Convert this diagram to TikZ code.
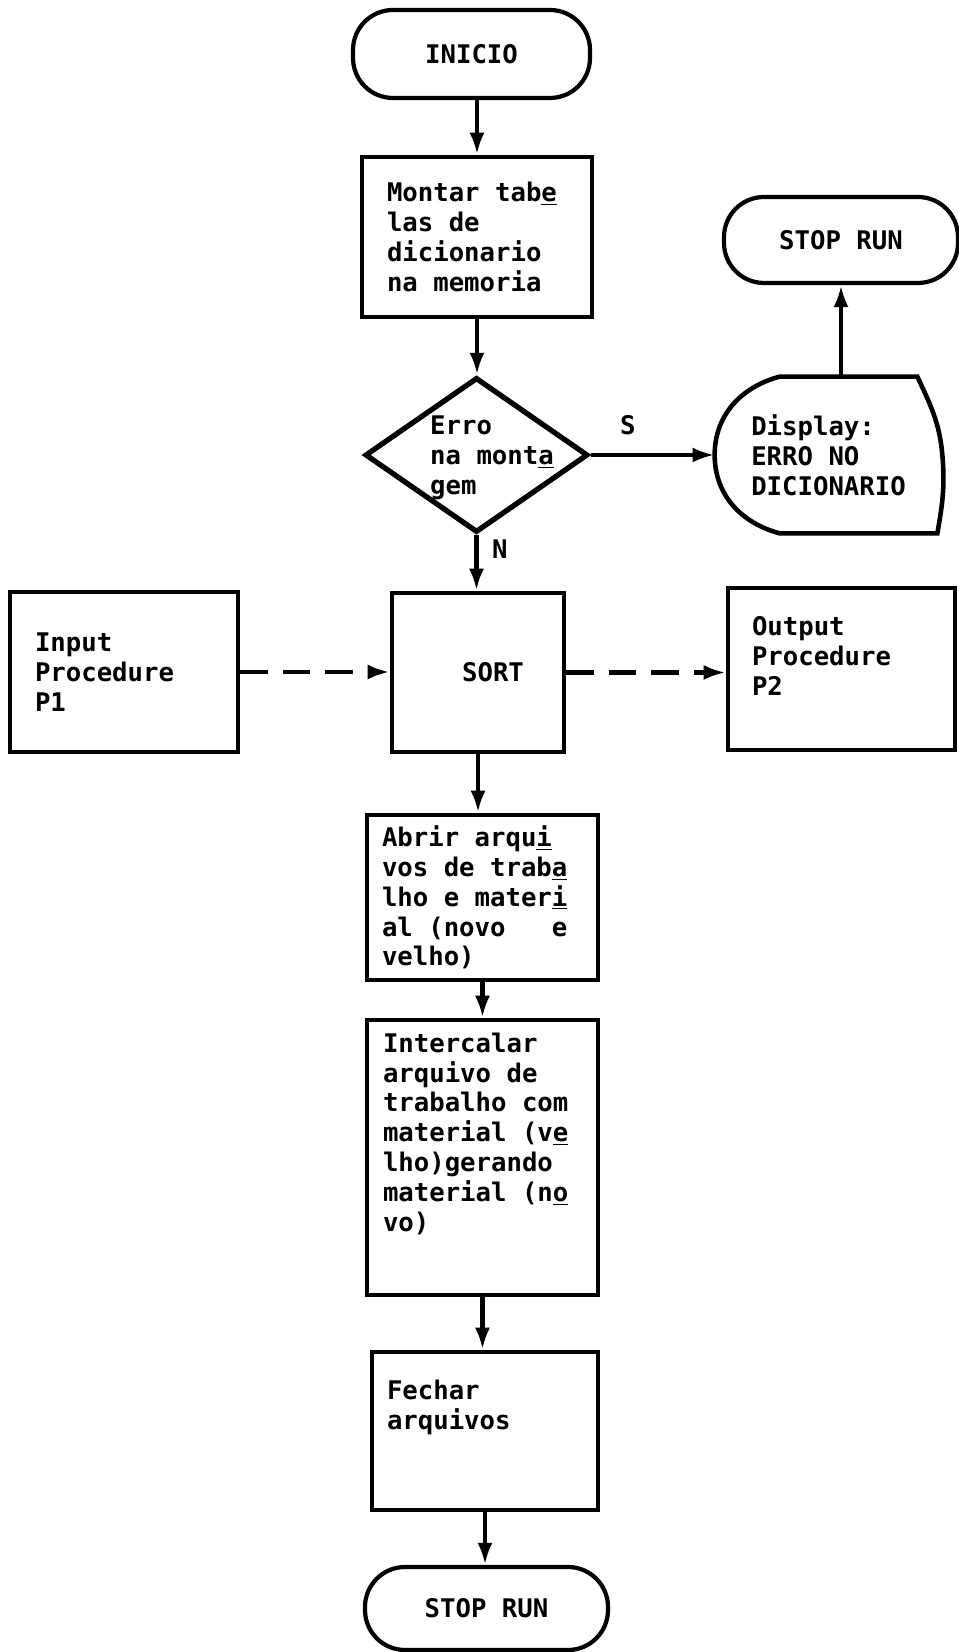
\documentclass[tikz,border=0pt]{standalone}
\usepackage{fontspec}
\setmonofont{DejaVu Sans Mono}
\usetikzlibrary{shapes.geometric,arrows.meta}
\newcommand{\typew}{\ttfamily\bfseries\fontsize{14.6}{17}\selectfont}

\begin{document}
\begin{tikzpicture}[>={Latex[length=0.44cm,width=0.3cm]},
        every node/.style={font=\typew},
        terminal/.style={draw, line width=2.4pt, rounded corners=0.8cm, inner sep=0pt},
        procbox/.style={draw, line width=2.6pt, align=left, inner ysep=0pt,
            execute at begin node={\spaceskip=0.602em\relax}},
        flow/.style={->, line width=2.5pt},
        dashflow/.style={->, line width=2.5pt, dash pattern=on 0.55cm off 0.3cm}]
        \useasboundingbox (0,0) rectangle (19.18,33.04);

        \node[terminal, minimum width=4.74cm, minimum height=1.76cm] (inicio) at (9.43,31.96) {INICIO};
        \node[procbox, minimum height=3.20cm, inner xsep=0.5cm, text width=3.60cm] (montar) at (9.54,28.30)
        {Montar tab\underline{e}\\las de\\dicionario\\na memoria};
        \node[diamond, draw, line width=3pt, minimum width=4.46cm, minimum height=3.10cm, inner sep=0pt] (erro) at (9.53,23.94) {};
        \node[align=left] (errotxt) at (9.84,23.88) {Erro\\na mont\underline{a}\\gem};
        \node[align=left, minimum width=4.54cm, minimum height=3.12cm] (disp) at (16.57,23.94)
        {Display:\\ERRO NO\\DICIONARIO};
        \draw[line width=2.6pt] ([xshift=1.3cm]disp.north west) -- ([xshift=-0.5cm]disp.north east)
            to[out=-65,in=95] (disp.east) to[out=-85,in=80] ([xshift=-0.1cm]disp.south east)
            -- ([xshift=1.3cm]disp.south west) to[out=165,in=-90] (disp.west)
            to[out=90,in=-165] cycle;
        \node[terminal, minimum width=4.68cm, minimum height=1.72cm] (stop1) at (16.82,28.24) {STOP RUN};

        \node[procbox, minimum height=3.20cm, inner xsep=0.5cm, text width=3.56cm] (input) at (2.48,19.60)
        {Input\\Procedure\\P1};
        \node[draw, line width=2.6pt, minimum width=3.44cm, minimum height=3.18cm] (sort) at (9.56,19.59)
        {\hspace*{0.6cm}SORT};
        \node[procbox, minimum height=3.24cm, inner xsep=0.48cm, text width=3.58cm, text depth=1.72cm] (output) at (16.83,19.66)
        {Output\\Procedure\\P2};

        \node[procbox, minimum height=3.30cm, inner xsep=0.3cm, text width=4.02cm] (abrir) at (9.65,15.09)
        {Abrir arqu\underline{i}\\vos de trab\underline{a}\\lho e mater\underline{i}\\al (novo\ \ \ e\\velho)};
        \node[procbox, minimum height=5.50cm, inner xsep=0.32cm, text width=3.98cm, text depth=4.6cm] (intercalar) at (9.65,9.89)
        {Intercalar\\arquivo de\\trabalho com\\material (v\underline{e}\\lho)gerando\\material (n\underline{o}\\vo)};
        \node[procbox, minimum height=3.16cm, inner xsep=0.3cm, text width=3.92cm, text depth=1.64cm] (fechar) at (9.70,4.42)
        {Fechar\\arquivos};
        \node[terminal, minimum width=4.86cm, minimum height=1.66cm] (stop2) at (9.73,0.87) {STOP RUN};

        \draw[flow] (inicio.south -| montar.north) -- (montar.north);
        \draw[flow] (montar.south) -- (montar.south |- erro.north);
        \draw[flow] (erro.south) -- node[right=0.15cm, pos=0.25] {N} (erro.south |- sort.north);
        \draw[flow] (erro.east) -- node[above=0.25cm, pos=0.3] {S} (disp.west);
        \draw[flow] (disp.north -| stop1.south) -- (stop1.south);
        \draw[dashflow] (input.east) -- (input.east -| sort.west);
        \draw[dashflow] (sort.east) -- (sort.east -| output.west);
        \draw[flow] (sort.south) -- (sort.south |- abrir.north);
        \draw[flow] (abrir.south) -- (abrir.south |- intercalar.north);
        \draw[flow] (intercalar.south) -- (intercalar.south |- fechar.north);
        \draw[flow] (fechar.south) -- (fechar.south |- stop2.north);
\end{tikzpicture}
\end{document}
